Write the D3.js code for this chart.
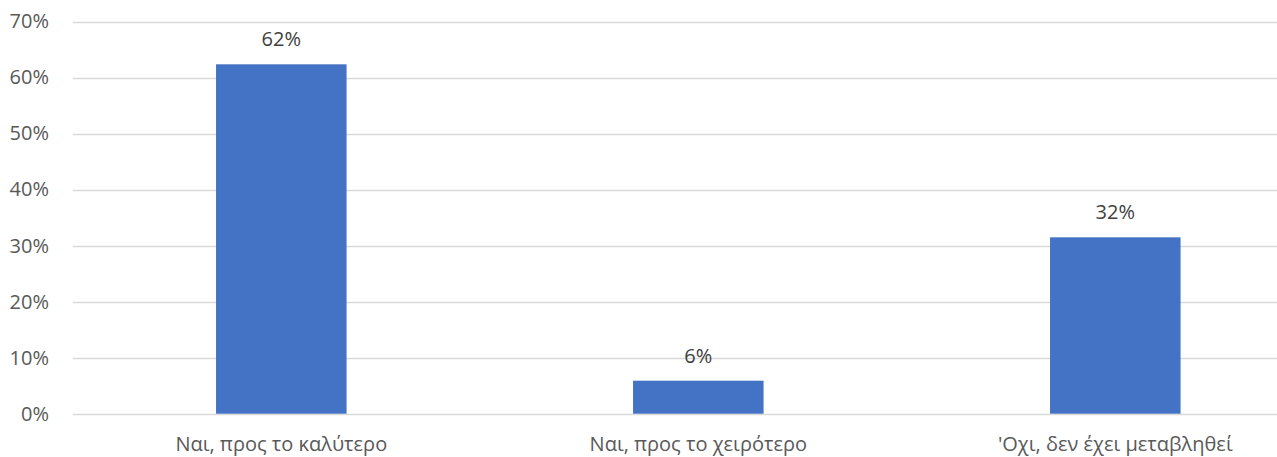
<!DOCTYPE html>
<html><head><meta charset="utf-8">
<script src="https://cdn.jsdelivr.net/npm/d3@7"></script>
<style>html,body{margin:0;padding:0;background:#fff;overflow:hidden}</style>
</head><body>
<svg id="c" width="1277" height="457"></svg>
<script>
const categories = ["Ναι, προς το καλύτερο", "Ναι, προς το χειρότερο", "'Οχι, δεν έχει μεταβληθεί"];
const values = [0.6236, 0.0589, 0.3148];
const valueLabels = ["62%", "6%", "32%"];
const yTicks = [0, 0.1, 0.2, 0.3, 0.4, 0.5, 0.6, 0.7];

const svg = d3.select("#c");
const font = "'Open Sans', sans-serif";
const fs = 20;
const x0 = 72.8, step = 417;
const x = d3.scaleBand().domain(categories).range([x0, x0 + step * categories.length])
  .paddingInner(0.687).paddingOuter(0.3435);
const y = d3.scaleLinear().domain([0, 0.7]).range([413.7, 21.5]);

const grid = svg.append("g");
grid.selectAll("line").data(yTicks).join("line")
  .attr("x1", x0).attr("x2", 1277)
  .attr("y1", d => Math.round(y(d)) + 0.5).attr("y2", d => Math.round(y(d)) + 0.5)
  .attr("stroke", "#D9D9D9").attr("stroke-width", 1.3);

const yAxis = d3.axisLeft(y).tickValues(yTicks).tickFormat(d3.format(".0%")).tickSize(0).tickPadding(0);
const ya = svg.append("g").attr("transform", "translate(49,0)").call(yAxis);
ya.select(".domain").remove();
ya.selectAll("text").attr("font-family", font).attr("font-size", fs).attr("fill", "#595959");

svg.append("g").selectAll("rect").data(values).join("rect")
  .attr("x", (d, i) => x(categories[i])).attr("width", x.bandwidth())
  .attr("y", d => y(d)).attr("height", d => y(0) - y(d))
  .attr("fill", "#4472C4");

svg.append("g").selectAll("text").data(values).join("text")
  .attr("x", (d, i) => x(categories[i]) + x.bandwidth() / 2)
  .attr("y", d => y(d) - 18)
  .attr("text-anchor", "middle").attr("font-family", font).attr("font-size", fs)
  .attr("fill", "#404040").text((d, i) => valueLabels[i]);

const xAxis = d3.axisBottom(x).tickSize(0).tickPadding(0);
const xa = svg.append("g").attr("transform", "translate(0,437)").call(xAxis);
xa.select(".domain").remove();
xa.selectAll("text").attr("font-family", font).attr("font-size", fs).attr("fill", "#595959");
</script>
</body></html>
